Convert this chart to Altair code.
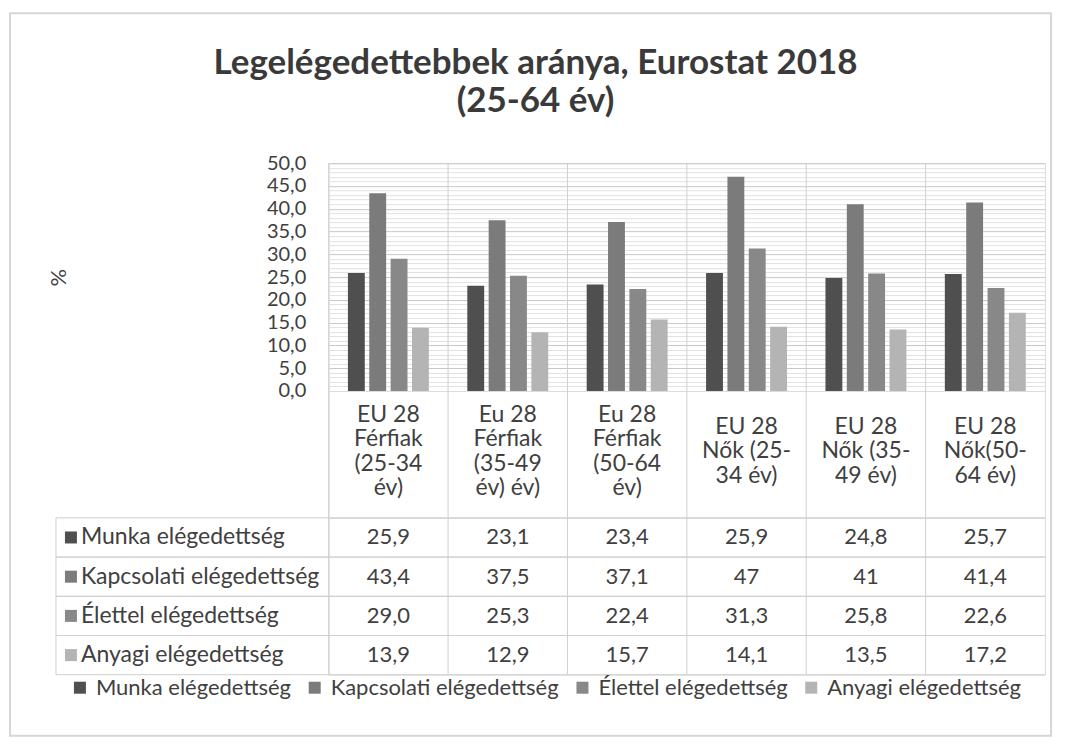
import altair as alt
import pandas as pd

TITLE = ["Legelégedettebbek aránya, Eurostat 2018", "(25-64 év)"]
CATEGORIES = [
    "EU 28|Férfiak|(25-34|év)",
    "Eu 28|Férfiak|(35-49|év) év)",
    "Eu 28|Férfiak|(50-64|év)",
    "EU 28|Nők (25-|34 év)",
    "EU 28|Nők (35-|49 év)",
    "EU 28|Nők(50-|64 év)",
]
SERIES = ["Munka elégedettség", "Kapcsolati elégedettség", "Élettel elégedettség", "Anyagi elégedettség"]
MUNKA = [25.9, 23.1, 23.4, 25.9, 24.8, 25.7]
KAPCSOLATI = [43.4, 37.5, 37.1, 47, 41, 41.4]
ELETTEL = [29.0, 25.3, 22.4, 31.3, 25.8, 22.6]
ANYAGI = [13.9, 12.9, 15.7, 14.1, 13.5, 17.2]
FORMATS = ["fixed", "general", "fixed", "fixed"]
COLORS = ["#4f4f4f", "#7b7b7b", "#888888", "#b4b4b4"]
Y_TICKS = list(range(0, 51))
Y_TITLE = "%"

FONT = "Lato"
TXT = "#404040"
LINE = "#cfcfcf"
W = 717
H_PLOT = 228
H_HDR = 127
H_TBL = 157
LH = 24.6


def fmt_num(v, kind):
    s = f"{v:g}" if kind == "general" else f"{v:.1f}"
    return s.replace(".", ",")


rows = []
for s, vals, kind in zip(SERIES, [MUNKA, KAPCSOLATI, ELETTEL, ANYAGI], FORMATS):
    for c, v in zip(CATEGORIES, vals):
        rows.append({"cat": c, "series": s, "value": v, "label": fmt_num(v, kind)})
df = pd.DataFrame(rows)
cat_df = pd.DataFrame({"cat": CATEGORIES})
ser_df = pd.DataFrame({"series": SERIES})
title_df = pd.DataFrame({"t": ["\n".join(TITLE)]})

xband = alt.Scale(paddingInner=0, paddingOuter=0)
color = alt.Color(
    "series:N", sort=SERIES,
    scale=alt.Scale(domain=SERIES, range=COLORS),
    legend=alt.Legend(
        title=None, orient="none", direction="horizontal",
        legendX=-260, legendY=514, padding=0,
        symbolType="square", symbolSize=144, symbolStrokeWidth=0,
        labelFont=FONT, labelFontSize=22, labelColor=TXT,
        labelOffset=5, columnPadding=12, labelLimit=400,
    ),
)

bars = alt.Chart(df).mark_bar().encode(
    x=alt.X("cat:N", sort=CATEGORIES, scale=xband, axis=None),
    xOffset=alt.XOffset("series:N", sort=SERIES, scale=alt.Scale(paddingInner=0.21, paddingOuter=0.9)),
    y=alt.Y(
        "value:Q", scale=alt.Scale(domain=[0, 50], nice=False),
        axis=alt.Axis(
            values=Y_TICKS, title=Y_TITLE, domain=False, ticks=False,
            labelExpr="datum.value % 5 === 0 ? replace(format(datum.value, '.1f'), '.', ',') : ''",
            labelOverlap=False, labelPadding=23, labelFont=FONT, labelFontSize=20, labelColor=TXT,
            gridColor={"condition": {"test": "datum.value % 5 === 0", "value": "#c8c8c8"}, "value": "#e2e2e2"},
            gridWidth=1,
            titleX=-270, titleY=114, titleFont=FONT, titleFontSize=22, titleFontWeight="normal",
            titleColor=TXT, titleAlign="center", titleBaseline="middle",
        ),
    ),
    color=color,
)
vsep = alt.Chart(cat_df).mark_rule(color=LINE).encode(
    x=alt.X("cat:N", sort=CATEGORIES, scale=xband, bandPosition=0, axis=None)
)
title = alt.Chart(title_df).mark_text(
    font=FONT, fontSize=35, fontWeight="bold", color="#3a3a3a",
    lineBreak="\n", lineHeight=38, baseline="middle", align="center",
).encode(x=alt.value(207), y=alt.value(-100), text="t:N")
top = alt.layer(vsep, bars, title).properties(width=W, height=H_PLOT)

hdr_rules = alt.Chart(cat_df).mark_rule(color=LINE).encode(
    x=alt.X("cat:N", sort=CATEGORIES, scale=xband, bandPosition=0, axis=None)
)


def hdr_layer(n_lines):
    return alt.Chart(cat_df).transform_filter(
        f"length(split(datum.cat, '|')) == {n_lines}"
    ).mark_text(
        lineBreak="|", font=FONT, fontSize=23, lineHeight=LH, color=TXT, baseline="middle"
    ).encode(
        x=alt.X("cat:N", sort=CATEGORIES, scale=xband, axis=None),
        y=alt.value(H_HDR / 2 - 3 - (n_lines - 1) * LH / 2),
        text="cat:N",
    )


header = alt.layer(hdr_rules, hdr_layer(4), hdr_layer(3)).properties(width=W, height=H_HDR)

yrow = dict(sort=SERIES, scale=alt.Scale(paddingInner=0, paddingOuter=0), axis=None)
row_top = alt.Chart(ser_df).mark_rule(color=LINE).encode(
    y=alt.Y("series:N", bandPosition=0, **yrow), x=alt.value(-273), x2=alt.value(W)
)
row_bot = alt.Chart(ser_df).mark_rule(color=LINE).encode(
    y=alt.Y("series:N", bandPosition=1, **yrow), x=alt.value(-273), x2=alt.value(W)
)
left_edge = alt.Chart(title_df).mark_rule(color=LINE).encode(
    x=alt.value(-273), y=alt.value(0), y2=alt.value(H_TBL)
)
col_sep = alt.Chart(cat_df).mark_rule(color=LINE).encode(
    x=alt.X("cat:N", sort=CATEGORIES, scale=xband, bandPosition=0, axis=None)
)
nums = alt.Chart(df).mark_text(font=FONT, fontSize=22, color=TXT).encode(
    x=alt.X("cat:N", sort=CATEGORIES, scale=xband, axis=None),
    y=alt.Y("series:N", **yrow),
    text="label:N",
)
row_labels = alt.Chart(ser_df).mark_text(font=FONT, fontSize=23, color=TXT, align="left").encode(
    x=alt.value(-248), y=alt.Y("series:N", **yrow), text="series:N"
)
row_keys = alt.Chart(ser_df).mark_point(shape="square", size=144, filled=True, opacity=1).encode(
    x=alt.value(-258), y=alt.Y("series:N", **yrow),
    color=alt.Color("series:N", sort=SERIES, scale=alt.Scale(domain=SERIES, range=COLORS), legend=None),
)
frame = alt.Chart(title_df).mark_rect(fillOpacity=0, stroke="#d6d6d6", strokeWidth=2).encode(
    x=alt.value(-319), x2=alt.value(723), y=alt.value(-505), y2=alt.value(218)
)
table = alt.layer(frame, row_top, row_bot, left_edge, col_sep, nums, row_labels, row_keys).properties(
    width=W, height=H_TBL
)

chart = alt.vconcat(top, header, table, spacing=0, bounds="flush").properties(
    padding={"left": 0, "top": 3, "right": 5, "bottom": 5}
).configure_view(stroke=LINE).configure(background="white")

chart.save("out.html", embed_options={"renderer": "svg", "actions": False})
